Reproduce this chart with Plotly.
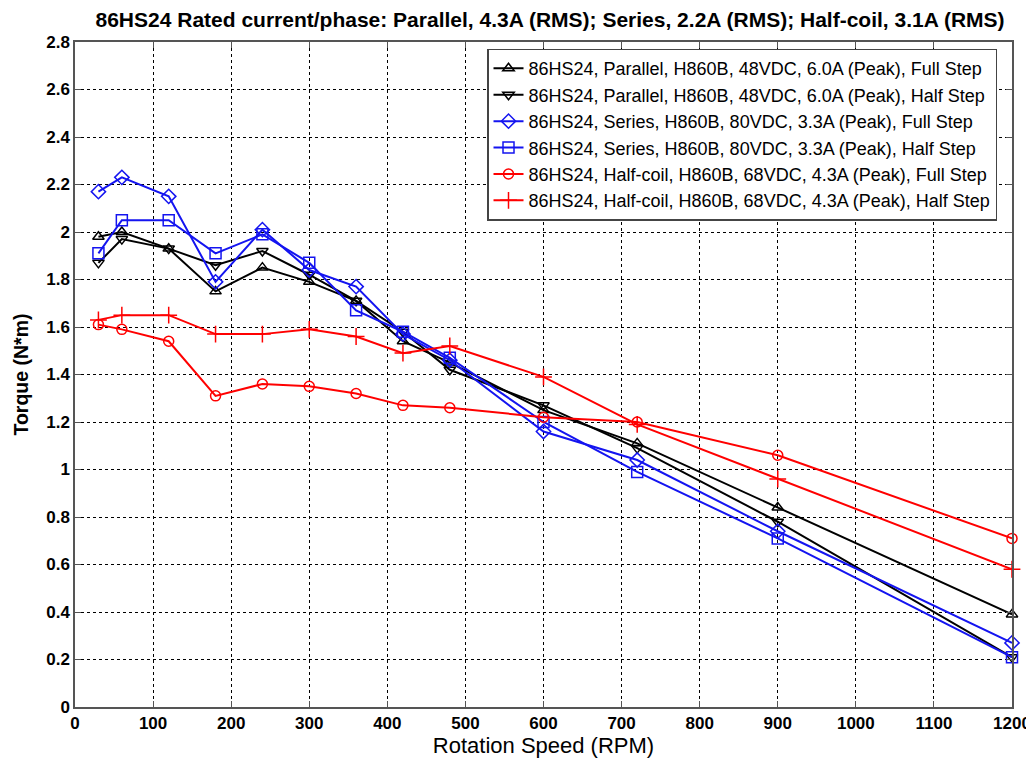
import plotly.graph_objects as go

rpm = [30, 60, 120, 180, 240, 300, 360, 420, 480, 600, 720, 900, 1200]

parallel_full = [1.98, 2.00, 1.93, 1.75, 1.85, 1.79, 1.71, 1.54, 1.45, 1.25, 1.11, 0.84, 0.39]
parallel_half = [1.87, 1.97, 1.93, 1.86, 1.92, 1.82, 1.71, 1.58, 1.42, 1.27, 1.09, 0.78, 0.21]
series_full = [2.17, 2.23, 2.15, 1.79, 2.01, 1.84, 1.77, 1.57, 1.46, 1.16, 1.04, 0.74, 0.27]
series_half = [1.91, 2.05, 2.05, 1.91, 1.99, 1.87, 1.67, 1.58, 1.47, 1.20, 0.99, 0.71, 0.21]
halfcoil_full = [1.61, 1.59, 1.54, 1.31, 1.36, 1.35, 1.32, 1.27, 1.26, 1.22, 1.20, 1.06, 0.71]
halfcoil_half = [1.63, 1.65, 1.65, 1.57, 1.57, 1.59, 1.56, 1.49, 1.52, 1.39, 1.19, 0.96, 0.58]

names = [
    "86HS24, Parallel, H860B, 48VDC, 6.0A (Peak), Full Step",
    "86HS24, Parallel, H860B, 48VDC, 6.0A (Peak), Half Step",
    "86HS24, Series, H860B, 80VDC, 3.3A (Peak), Full Step",
    "86HS24, Series, H860B, 80VDC, 3.3A (Peak), Half Step",
    "86HS24, Half-coil, H860B, 68VDC, 4.3A (Peak), Full Step",
    "86HS24, Half-coil, H860B, 68VDC, 4.3A (Peak), Half Step",
]
series = [parallel_full, parallel_half, series_full, series_half, halfcoil_full, halfcoil_half]
colors = ["black", "black", "#1414f0", "#1414f0", "#ff0000", "#ff0000"]
symbols = ["triangle-up-open", "triangle-down-open", "diamond-open", "square-open", "circle-open", "cross-thin-open"]
sizes = [10, 10, 11, 11, 10, 12]

x_ticks = list(range(0, 1201, 100))
y_ticks = [round(0.2 * i, 1) for i in range(15)]
y_labels = ["0", "0.2", "0.4", "0.6", "0.8", "1", "1.2", "1.4", "1.6", "1.8", "2", "2.2", "2.4", "2.6", "2.8"]

FONT = "Liberation Sans, Arial, sans-serif"

fig = go.Figure()
for nm, ys, c, s, sz in zip(names, series, colors, symbols, sizes):
    fig.add_trace(go.Scatter(
        x=rpm, y=ys, name=nm, mode="lines+markers", cliponaxis=False,
        line=dict(color=c, width=2),
        marker=dict(symbol=s, size=sz, color=c, line=dict(color=c, width=1.5)),
    ))

fig.update_layout(
    width=1034, height=765,
    paper_bgcolor="white", plot_bgcolor="white",
    margin=dict(l=67, r=30, t=34, b=66),
    title=dict(
        text="<b>86HS24 Rated current/phase: Parallel, 4.3A (RMS); Series, 2.2A (RMS); Half-coil, 3.1A (RMS)</b>",
        xref="paper", x=0.507, xanchor="center", y=0.995, yanchor="top",
        font=dict(family=FONT, size=21, color="black"),
    ),
    legend=dict(
        x=0.984, y=0.99, xanchor="right", yanchor="top",
        bgcolor="white", bordercolor="#444", borderwidth=1.5,
        font=dict(family=FONT, size=18, color="black"),
        tracegroupgap=0,
    ),
    showlegend=True,
)

tickfont = dict(family=FONT, size=17, color="black", weight="bold")

fig.update_xaxes(
    range=[0, 1200], tickvals=x_ticks, ticktext=[str(v) for v in x_ticks],
    showgrid=True, gridcolor="black", griddash="dot", gridwidth=1,
    showline=True, linecolor="#555", linewidth=1.5, mirror="ticks",
    ticks="inside", ticklen=6, tickcolor="#555",
    tickfont=tickfont, zeroline=False,
    title=dict(text="Rotation Speed (RPM)", standoff=4,
               font=dict(family=FONT, size=22, color="black")),
)
fig.update_yaxes(
    range=[0, 2.8], tickvals=y_ticks, ticktext=y_labels,
    showgrid=True, gridcolor="black", griddash="dot", gridwidth=1,
    showline=True, linecolor="#555", linewidth=1.5, mirror="ticks",
    ticks="inside", ticklen=6, tickcolor="#555",
    tickfont=tickfont, zeroline=False,
    title=dict(text="<b>Torque (N*m)</b>", standoff=12,
               font=dict(family=FONT, size=19.5, color="black")),
)

fig.write_html("out.html")
